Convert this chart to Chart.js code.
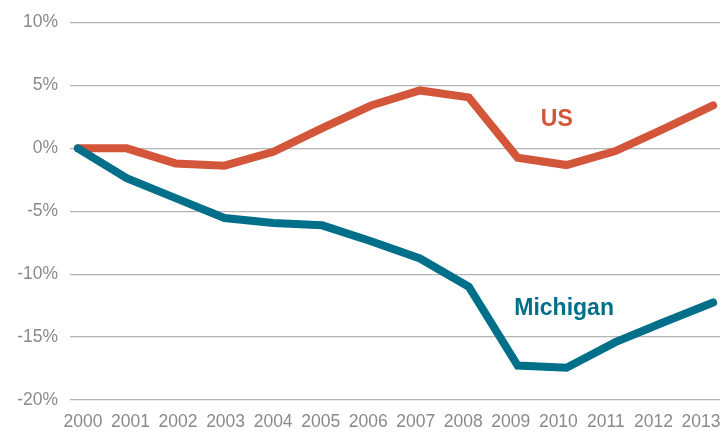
<!DOCTYPE html>
<html><head><meta charset="utf-8">
<script src="https://cdn.jsdelivr.net/npm/chart.js@4.4.1/dist/chart.umd.min.js"></script>
<style>html,body{margin:0;padding:0;background:#fff}#wrap{width:724px;height:435px;position:relative}</style>
</head><body><div id="wrap"><canvas id="c" width="724" height="435"></canvas></div>
<script>
const years = [2000,2001,2002,2003,2004,2005,2006,2007,2008,2009,2010,2011,2012,2013];
const usValues = [0,0,-1.2,-1.38,-0.28,1.6,3.4,4.6,4.05,-0.75,-1.33,-0.22,1.56,3.41];
const michiganValues = [0,-2.38,-3.96,-5.54,-5.94,-6.12,-7.38,-8.75,-11.0,-17.26,-17.44,-15.4,-13.8,-12.25];
const yTicks = [10,5,0,-5,-10,-15,-20];
const seriesLabels = [{text:'US', x:2009.8, y:2.3, color:'#d3553a'},{text:'Michigan', x:2009.95, y:-12.75, color:'#00708a'}];

const labelPlugin = {
  id:'seriesLabels',
  afterDatasetsDraw(chart){
    const ctx = chart.ctx, xs = chart.scales.x, ys = chart.scales.y;
    ctx.save();
    ctx.font = 'bold 23px "Liberation Sans", Arial, sans-serif';
    ctx.textAlign = 'center'; ctx.textBaseline = 'middle';
    seriesLabels.forEach(l => { ctx.fillStyle = l.color; ctx.fillText(l.text, xs.getPixelForValue(l.x), ys.getPixelForValue(l.y)); });
    ctx.restore();
  }
};
const tickFont = {family:'"Liberation Sans", Arial, sans-serif', size:17.5};

new Chart(document.getElementById('c'), {
  type:'line',
  data:{ datasets:[
    {label:'Michigan', data: years.map((y,i)=>({x:y,y:michiganValues[i]})), borderColor:'#00708a', borderWidth:8, pointRadius:0, borderCapStyle:'round', tension:0, order:0},
    {label:'US', data: years.map((y,i)=>({x:y,y:usValues[i]})), borderColor:'#d3553a', borderWidth:8, pointRadius:0, borderCapStyle:'round', tension:0, order:1}
  ]},
  options:{
    responsive:false, animation:false,
    layout:{padding:{top:12,right:4,left:0,bottom:0}},
    plugins:{legend:{display:false}, tooltip:{enabled:false}},
    scales:{
      x:{ type:'linear', min:1999.84, max:2013.14, display:false,
        afterFit: s => { s.height = 0; s.paddingLeft = 0; s.paddingRight = 0; },
        grid:{display:false}
      },
      xLabels:{ type:'linear', position:'bottom', min:1999.727, max:2013.40,
        afterBuildTicks: s => { s.ticks = years.map(v=>({value:v})); },
        afterFit: s => { s.height = 35; s.paddingLeft = 0; s.paddingRight = 0; },
        grid:{display:false, drawTicks:false}, border:{display:false},
        ticks:{ padding:12, color:'#8a8a8a', font:tickFont, callback:v=>String(v), maxRotation:0, autoSkip:false }
      },
      y:{ min:-20, max:10,
        afterBuildTicks: s => { s.ticks = yTicks.map(v=>({value:v})); },
        afterFit: s => { s.width = 70; },
        grid:{color:'#b4b4b4', lineWidth:1.2, drawTicks:false}, border:{display:false},
        ticks:{ padding:12, color:'#8a8a8a', font:tickFont, callback:v=>v+'%' }
      }
    }
  },
  plugins:[labelPlugin]
});
</script></body></html>
